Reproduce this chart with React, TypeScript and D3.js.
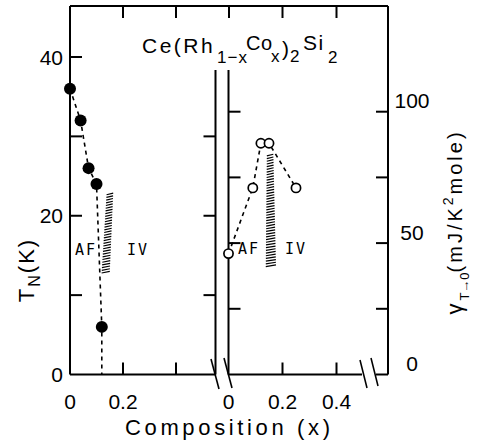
import React from "react";
import * as d3 from "d3";

// Néel temperature vs Co concentration (left panel)
const tnComposition = [0, 0.04, 0.07, 0.1, 0.12];
const tnValues = [36, 32, 26, 24, 6];
// Sommerfeld coefficient vs Co concentration (right panel)
const gammaComposition = [0, 0.09, 0.12, 0.15, 0.25];
const gammaValues = [46, 71, 88, 88, 71];

// AF / IV crossover regions: value range and composition span at each end
const tnBand = { low: 12.75, high: 22.75, lowX: [0.119, 0.15], highX: [0.138, 0.163] };
const gammaBand = { low: 41, high: 83.5, lowX: [0.138, 0.176], highX: [0.142, 0.166] };

const tnTicks = [10, 20, 30, 40];
const tnInnerTicks = [10, 20, 30];
const tnTickLabels = [0, 20, 40];
const gammaTicks = [25, 50, 75, 100];
const gammaTickLabels = [0, 50, 100];
const leftXTicks = [0.2, 0.4];
const rightXTicks = [0.2, 0.4];
const topLeftTicks = [0.2, 0.4, 0.6];
const xLabelsLeft = ["0", "0.2"];
const xLabelsRight = ["0", "0.2", "0.4"];

const W = 491;
const H = 445;
const FONT = "'Liberation Sans', Arial, sans-serif";

export default function App() {
  const top = 6;
  const bottom = 374.5;
  const leftAxis = 70;
  const rightAxis = 388;
  const innerL = 215.5;
  const innerR = 228.5;
  const innerTop = 70;
  const tick = 12;

  const xL = d3.scaleLinear().domain([0, 0.2]).range([leftAxis, 123]);
  const xR = d3.scaleLinear().domain([0, 0.2]).range([innerR, 282.5]);
  const yT = d3.scaleLinear().domain([0, 40]).range([bottom, 57]);
  const yG = d3.scaleLinear().domain([0, 100]).range([bottom, 111.7]);

  const tnPts: [number, number][] = tnComposition.map((c, i) => [xL(c), yT(tnValues[i])]);
  const tnLinePts: [number, number][] = [...tnPts, [xL(tnComposition[tnComposition.length - 1]), yT(0)]];
  const gPts: [number, number][] = gammaComposition.map((c, i) => [xR(c), yG(gammaValues[i])]);
  const line = d3.line();

  const hatch = (band: typeof tnBand, x: d3.ScaleLinear<number, number>, y: d3.ScaleLinear<number, number>) => {
    const yb = y(band.low);
    const yt = y(band.high);
    return d3.range(yt, yb + 0.1, 2.7).map((py) => {
      const f = (yb - py) / (yb - yt);
      const a = band.lowX[0] + (band.highX[0] - band.lowX[0]) * f;
      const b = band.lowX[1] + (band.highX[1] - band.lowX[1]) * f;
      return [x(a), py + 0.8, x(b), py - 0.8];
    });
  };

  const stroke = { stroke: "#000", strokeWidth: 2, fill: "none" } as const;

  return (
    <svg width={W} height={H} style={{ position: "absolute", left: 0, top: 0, background: "#fff" }} fontFamily={FONT}>
      <rect width={W} height={H} fill="#fff" />
      {/* frame */}
      <line x1={leftAxis} y1={top} x2={rightAxis} y2={top} {...stroke} />
      <line x1={leftAxis} y1={top} x2={leftAxis} y2={bottom} {...stroke} />
      <line x1={rightAxis} y1={top} x2={rightAxis} y2={bottom} {...stroke} />
      <line x1={leftAxis} y1={bottom} x2={innerL} y2={bottom} {...stroke} />
      <line x1={innerR} y1={bottom} x2={362} y2={bottom} {...stroke} />
      <line x1={376} y1={bottom} x2={rightAxis} y2={bottom} {...stroke} />
      <line x1={innerL} y1={innerTop} x2={innerL} y2={bottom} {...stroke} />
      <line x1={innerR} y1={innerTop} x2={innerR} y2={bottom} {...stroke} />
      {/* axis breaks */}
      <line x1={211} y1={359} x2={219} y2={389} {...stroke} strokeWidth={1.6} />
      <line x1={224} y1={358} x2={232} y2={388} {...stroke} strokeWidth={1.6} />
      <line x1={360} y1={360} x2={367} y2={388} {...stroke} strokeWidth={1.6} />
      <line x1={371} y1={358} x2={378} y2={386} {...stroke} strokeWidth={1.6} />

      {/* ticks */}
      {tnTicks.map((t) => (
        <line key={"tl" + t} x1={leftAxis} y1={yT(t)} x2={leftAxis + tick} y2={yT(t)} {...stroke} />
      ))}
      {tnInnerTicks.map((t) => (
        <line key={"ti" + t} x1={innerL - tick} y1={yT(t)} x2={innerL} y2={yT(t)} {...stroke} />
      ))}
      {gammaTicks.map((g) => (
        <line key={"gi" + g} x1={innerR} y1={yG(g)} x2={innerR + tick} y2={yG(g)} {...stroke} />
      ))}
      {gammaTicks.map((g) => (
        <line key={"gr" + g} x1={rightAxis - tick} y1={yG(g)} x2={rightAxis} y2={yG(g)} {...stroke} />
      ))}
      {leftXTicks.map((c) => (
        <line key={"bl" + c} x1={xL(c)} y1={bottom - tick} x2={xL(c)} y2={bottom} {...stroke} />
      ))}
      {rightXTicks.map((c) => (
        <line key={"br" + c} x1={xR(c)} y1={bottom - tick} x2={xR(c)} y2={bottom} {...stroke} />
      ))}
      {topLeftTicks.map((c) => (
        <line key={"tt" + c} x1={xL(c)} y1={top} x2={xL(c)} y2={top + tick} {...stroke} />
      ))}
      {rightXTicks.map((c) => (
        <line key={"tr" + c} x1={xR(c)} y1={top} x2={xR(c)} y2={top + tick} {...stroke} />
      ))}

      {/* tick labels */}
      {tnTickLabels.map((t) => (
        <text key={"lt" + t} x={63} y={yT(t)} dy="0.36em" fontSize={21} textAnchor="end">
          {t}
        </text>
      ))}
      {gammaTickLabels.map((g) => (
        <text key={"lg" + g} x={412} y={yG(g) - 11} dy="0.36em" fontSize={21} textAnchor="middle">
          {g}
        </text>
      ))}
      {xLabelsLeft.map((s) => (
        <text key={"xl" + s} x={xL(+s)} y={409} fontSize={21} textAnchor="middle">
          {s}
        </text>
      ))}
      {xLabelsRight.map((s) => (
        <text key={"xr" + s} x={xR(+s)} y={409} fontSize={21} textAnchor="middle">
          {s}
        </text>
      ))}

      {/* hatched crossover bands */}
      {hatch(tnBand, xL, yT).map((h, i) => (
        <line key={"ht" + i} x1={h[0]} y1={h[1]} x2={h[2]} y2={h[3]} stroke="#000" strokeWidth={1.2} />
      ))}
      {hatch(gammaBand, xR, yG).map((h, i) => (
        <line key={"hg" + i} x1={h[0]} y1={h[1]} x2={h[2]} y2={h[3]} stroke="#000" strokeWidth={1.2} />
      ))}

      {/* dashed guides and points */}
      <path d={line(tnLinePts) ?? ""} fill="none" stroke="#000" strokeWidth={1.6} strokeDasharray="4 4" />
      <path d={line(gPts) ?? ""} fill="none" stroke="#000" strokeWidth={1.6} strokeDasharray="4 4" />
      {tnPts.map((p, i) => (
        <circle key={"c" + i} cx={p[0]} cy={p[1]} r={6} fill="#000" />
      ))}
      {gPts.map((p, i) => (
        <circle key={"o" + i} cx={p[0]} cy={p[1]} r={4.6} fill="#fff" stroke="#000" strokeWidth={1.7} />
      ))}

      {/* region labels */}
      <g fontFamily="'DejaVu Sans Mono', monospace" fontSize={15} letterSpacing={2}>
        <text x={75} y={255}>AF</text>
        <text x={127} y={255}>IV</text>
        <text x={238} y={254}>AF</text>
        <text x={285} y={254}>IV</text>
      </g>

      {/* compound formula */}
      <g fontSize={21}>
        <text x={142} y={53} letterSpacing={2.5}>Ce(Rh</text>
        <text x={217} y={63} fontSize={17} letterSpacing={1}>1−x</text>
        <text x={246} y={50} fontSize={20} letterSpacing={0.5}>Co</text>
        <text x={271} y={62} fontSize={17}>x</text>
        <text x={282} y={56}>)</text>
        <text x={290} y={62} fontSize={17}>2</text>
        <text x={303} y={50} letterSpacing={1.5}>Si</text>
        <text x={328} y={63} fontSize={17}>2</text>
      </g>

      {/* axis titles */}
      <text x={227.5} y={435} fontSize={22} textAnchor="middle" textLength={205} lengthAdjust="spacing">
        Composition (x)
      </text>
      <g transform="translate(34,270) rotate(-90)">
        <text x={0} y={0} fontSize={22} textAnchor="middle" letterSpacing={2}>
          <tspan>T</tspan>
          <tspan fontSize={16} dy={6}>N</tspan>
          <tspan dy={-6}>(K)</tspan>
        </text>
      </g>
      <g transform="translate(462,222) rotate(-90)">
        <text x={0} y={0} fontSize={20} textAnchor="middle" letterSpacing={3}>
          <tspan fontSize={22}>γ</tspan>
          <tspan fontSize={13} dy={7} letterSpacing={0}>T→0</tspan>
          <tspan dy={-7}>(mJ/K</tspan>
          <tspan fontSize={14} dy={-9}>2</tspan>
          <tspan dy={9}>mole)</tspan>
        </text>
      </g>
    </svg>
  );
}
